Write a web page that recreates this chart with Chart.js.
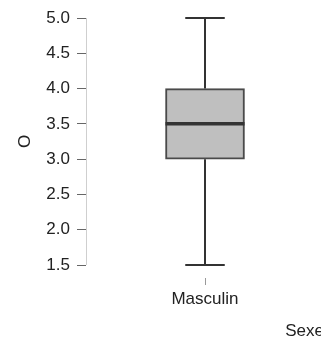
<!DOCTYPE html>
<html>
<head>
<meta charset="utf-8">
<script src="https://cdn.jsdelivr.net/npm/chart.js@4"></script>
<style>
  html, body { margin: 0; padding: 0; background: #fff; overflow: hidden; }
  #wrap { width: 324px; height: 347px; }
</style>
</head>
<body>
<div id="wrap"><canvas id="chart"></canvas></div>
<script>
// ================= DATA =================
const categories = ["Masculin"];
const minValues = [1.5];
const q1Values = [3.0];
const medianValues = [3.5];
const q3Values = [4.0];
const maxValues = [5.0];
const yLabel = "O";
const xLabel = "Sexe";

const FONT = "'Liberation Sans', Arial, Helvetica, sans-serif";

// y axis line, whiskers, caps, median and the x tick mark
const boxExtras = {
  id: "boxExtras",
  afterDatasetsDraw(c) {
    const ctx = c.ctx;
    const x = c.scales.x;
    const y = c.scales.y;
    ctx.save();

    // y axis line, only between min and max
    ctx.strokeStyle = "#cfcfcf";
    ctx.lineWidth = 1;
    ctx.beginPath();
    ctx.moveTo(y.right + 0.5, y.getPixelForValue(y.max));
    ctx.lineTo(y.right + 0.5, y.getPixelForValue(y.min));
    ctx.stroke();

    categories.forEach((cat, i) => {
      const cx = x.getPixelForValue(i);
      const bar = c.getDatasetMeta(0).data[i];
      const half = bar.width / 2;
      const capHalf = half / 2;

      ctx.strokeStyle = "#333";
      ctx.lineWidth = 2;
      ctx.beginPath();
      ctx.moveTo(cx, y.getPixelForValue(q3Values[i]));
      ctx.lineTo(cx, y.getPixelForValue(maxValues[i]));
      ctx.moveTo(cx, y.getPixelForValue(q1Values[i]));
      ctx.lineTo(cx, y.getPixelForValue(minValues[i]));
      ctx.moveTo(cx - capHalf, y.getPixelForValue(maxValues[i]));
      ctx.lineTo(cx + capHalf, y.getPixelForValue(maxValues[i]));
      ctx.moveTo(cx - capHalf, y.getPixelForValue(minValues[i]));
      ctx.lineTo(cx + capHalf, y.getPixelForValue(minValues[i]));
      ctx.stroke();

      // median
      ctx.lineWidth = 3.5;
      ctx.beginPath();
      ctx.moveTo(cx - half, y.getPixelForValue(medianValues[i]));
      ctx.lineTo(cx + half, y.getPixelForValue(medianValues[i]));
      ctx.stroke();

      // x tick
      ctx.strokeStyle = "#999";
      ctx.lineWidth = 1;
      ctx.beginPath();
      ctx.moveTo(Math.round(cx) + 0.5, y.bottom + 13);
      ctx.lineTo(Math.round(cx) + 0.5, y.bottom + 20);
      ctx.stroke();
    });
    ctx.restore();
  }
};

new Chart(document.getElementById("chart"), {
  type: "bar",
  data: {
    labels: categories,
    datasets: [{
      data: q1Values.map((q, i) => [q, q3Values[i]]),
      backgroundColor: "#bfbfbf",
      borderColor: "#4a4a4a",
      borderWidth: 2,
      borderSkipped: false,
      barThickness: 79
    }]
  },
  options: {
    responsive: true,
    maintainAspectRatio: false,
    animation: false,
    layout: { padding: { top: 18, left: 0, right: 0, bottom: 0 } },
    plugins: {
      legend: { display: false },
      tooltip: { enabled: false }
    },
    scales: {
      x: {
        grid: { display: false, drawTicks: false },
        border: { display: false },
        ticks: {
          padding: 24,
          color: "#222",
          font: { family: FONT, size: 17 }
        },
        title: {
          display: true,
          text: xLabel,
          align: "end",
          color: "#222",
          font: { family: FONT, size: 17 },
          padding: { top: 0, bottom: 5 }
        },
        afterFit(s) { s.height = 82; }
      },
      y: {
        min: 1.5,
        max: 5,
        grid: {
          drawOnChartArea: false,
          drawTicks: true,
          tickLength: 9,
          color: "#666"
        },
        border: { display: false },
        ticks: {
          stepSize: 0.5,
          padding: 7,
          color: "#222",
          font: { family: FONT, size: 17 },
          callback: v => v.toFixed(1)
        },
        title: {
          display: true,
          text: yLabel,
          color: "#222",
          font: { family: FONT, size: 17 },
          padding: { top: 15, bottom: 0 }
        },
        afterFit(s) { s.width = 86; }
      }
    }
  },
  plugins: [boxExtras]
});
</script>
</body>
</html>
